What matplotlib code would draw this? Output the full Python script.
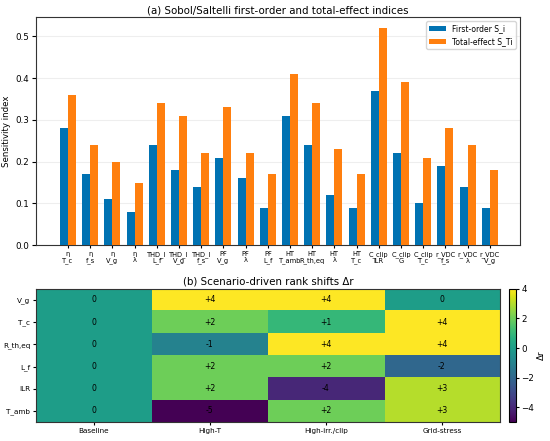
import numpy as np
import matplotlib
matplotlib.use("Agg")
import matplotlib.pyplot as plt

# ---- Data (a) ----
bar_labels = ["η\nT_c", "η\nf_s", "η\nV_g", "η\nλ",
              "THD_I\nL_f", "THD_I\nV_g", "THD_I\nf_s",
              "PF\nV_g", "PF\nλ", "PF\nL_f",
              "HT\nT_amb", "HT\nR_th,eq", "HT\nλ", "HT\nT_c",
              "C_clip\nILR", "C_clip\nG", "C_clip\nT_c",
              "r_VDC\nf_s", "r_VDC\nλ", "r_VDC\nV_g"]
first_order = [0.28, 0.17, 0.11, 0.08, 0.24, 0.18, 0.14, 0.21, 0.16, 0.09,
               0.31, 0.24, 0.12, 0.09, 0.37, 0.22, 0.10, 0.19, 0.14, 0.09]
total_effect = [0.36, 0.24, 0.20, 0.15, 0.34, 0.31, 0.22, 0.33, 0.22, 0.17,
                0.41, 0.34, 0.23, 0.17, 0.52, 0.39, 0.21, 0.28, 0.24, 0.18]

# ---- Data (b) ----
scenarios = ["Baseline", "High-T", "High-irr./clip", "Grid-stress"]
factors = ["V_g", "T_c", "R_th,eq", "L_f", "ILR", "T_amb"]
baseline = [0, 0, 0, 0, 0, 0]
high_t = [4, 2, -1, 2, 2, -5]
high_irr = [4, 1, 4, 2, -4, 2]
grid_stress = [0, 4, 4, -2, 3, 3]

fig = plt.figure(figsize=(5.5, 4.41), dpi=100)

# ---- Panel (a) ----
ax1 = fig.add_axes([0.065, 0.444, 0.88, 0.517])
x = np.arange(len(bar_labels))
w = 0.36
ax1.bar(x - w/2, first_order, w, color="#0072B2", label="First-order S_i", zorder=3)
ax1.bar(x + w/2, total_effect, w, color="#FF7F0E", label="Total-effect S_Ti", zorder=3)
ax1.set_xticks(x)
ax1.set_xticklabels(bar_labels, fontsize=4.8, linespacing=1.0)
ax1.tick_params(axis="y", labelsize=6.3, length=3, pad=2)
ax1.tick_params(axis="x", length=2, pad=2)
ax1.set_xlim(-1.45, len(bar_labels) - 1 + 1.35)
ax1.set_ylim(0, 0.546)
ax1.set_ylabel("Sensitivity index", fontsize=6.2, labelpad=3)
ax1.set_title("(a) Sobol/Saltelli first-order and total-effect indices", fontsize=7.4, pad=3)
ax1.yaxis.grid(True, color="#eeeeee", linewidth=0.8, zorder=0)
ax1.set_axisbelow(True)
ax1.legend(loc="upper right", fontsize=5.5, handlelength=2.2, borderpad=0.4)
for s in ax1.spines.values():
    s.set_color("#333333")

# ---- Panel (b) ----
ax2 = fig.add_axes([0.065, 0.043, 0.844, 0.302])
M = np.array([baseline, high_t, high_irr, grid_stress]).T
im = ax2.imshow(M, cmap="viridis", vmin=-5, vmax=4, aspect="auto")
ax2.set_xticks(range(len(scenarios)))
ax2.set_xticklabels(scenarios, fontsize=5.2)
ax2.set_yticks(range(len(factors)))
ax2.set_yticklabels(factors, fontsize=5.2)
ax2.tick_params(length=2, pad=2)
for i in range(M.shape[0]):
    for j in range(M.shape[1]):
        v = M[i, j]
        t = "0" if v == 0 else f"{v:+d}"
        ax2.text(j, i, t, ha="center", va="center", fontsize=5.6, color="black")
ax2.set_title("(b) Scenario-driven rank shifts Δr", fontsize=7.4, pad=3)
for s in ax2.spines.values():
    s.set_color("#333333")

cax = fig.add_axes([0.925, 0.043, 0.013, 0.302])
cb = fig.colorbar(im, cax=cax)
cb.set_ticks([-4, -2, 0, 2, 4])
cb.ax.tick_params(labelsize=6.3, length=2, pad=2)
cb.set_label("Δr", fontsize=6.3, labelpad=2)

fig.savefig("out.png", dpi=100)
